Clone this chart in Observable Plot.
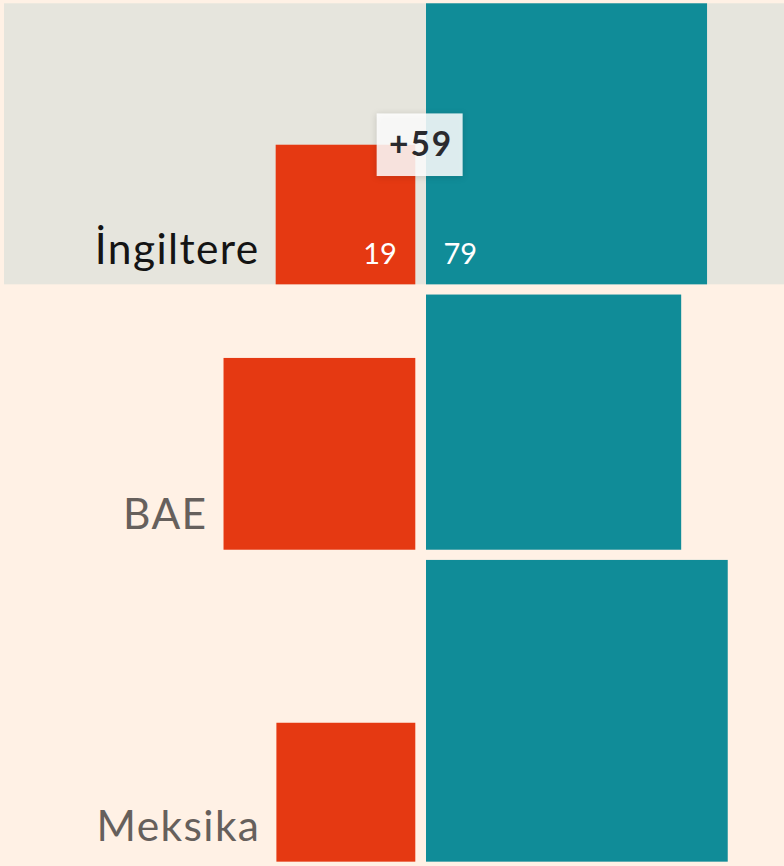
<!DOCTYPE html>
<html><head><meta charset="utf-8">
<script src="https://cdn.jsdelivr.net/npm/d3@7"></script>
<script src="https://cdn.jsdelivr.net/npm/@observablehq/plot@0.6"></script>
<style>
html,body{margin:0;padding:0;background:#fff1e5;}
#chart svg{display:block}
</style></head><body><div id="chart"></div>
<script>
// Data
const countries = ["İngiltere", "BAE", "Meksika"];
const leftValues = [19.4, 36.6, 19.2];   // red squares (area ∝ value)
const rightValues = [78.6, 64.8, 90.6];  // teal squares (area ∝ value)
const highlighted = "İngiltere";

// Layout parameters
const W = 784, H = 866;
const K = 31.7;          // px per sqrt-unit (same on both axes)
const CENTER = 420.65;   // px position of the split
const HALF_GAP = 5.35;
const ROW_GAP = 10.2 / K;
const TOP = 3.3 / K;

let cursor = TOP;
const rows = countries.map((name, i) => {
  const sL = Math.sqrt(leftValues[i]), sR = Math.sqrt(rightValues[i]);
  const top = cursor, bottom = top + Math.max(sL, sR);
  cursor = bottom + ROW_GAP;
  return {name, left: leftValues[i], right: rightValues[i], sL, sR, top, bottom, hl: name === highlighted};
});
const hlRows = rows.filter(d => d.hl);
const otherRows = rows.filter(d => !d.hl);
const xDomain = [-CENTER / K, (W - CENTER) / K];
const yDomain = [0, H / K];

const labelOpts = {x: d => -d.sL, y: "bottom", text: "name", textAnchor: "end", lineAnchor: "bottom",
  dx: -HALF_GAP - 16.5, dy: -21, fontSize: 42.5};

const chart = Plot.plot({
  width: W, height: H,
  margin: 0,
  x: {domain: xDomain, range: [0, W], axis: null},
  y: {domain: yDomain, range: [0, H], axis: null},
  style: {fontFamily: "Lato, sans-serif", background: "transparent", overflow: "visible"},
  marks: [
    Plot.rect(hlRows, {x1: () => xDomain[0] + 4 / K, x2: () => xDomain[1], y1: "top", y2: "bottom", fill: "#e6e5dd"}),
    Plot.rect(rows, {x1: d => -d.sL, x2: () => 0, y1: d => d.bottom - d.sL, y2: "bottom", fill: "#e53912", dx: -HALF_GAP}),
    Plot.rect(rows, {x1: () => 0, x2: d => d.sR, y1: d => d.bottom - d.sR, y2: "bottom", fill: "#108c98", dx: HALF_GAP}),
    Plot.text(hlRows, {...labelOpts, fill: "#141414"}),
    Plot.text(otherRows, {...labelOpts, fill: "#66605c"}),
    Plot.text(hlRows, {x: () => 0, y: "bottom", text: d => d3.format(".0f")(d.left), textAnchor: "end",
      lineAnchor: "bottom", dx: -HALF_GAP - 19, dy: -21, fontSize: 29, fill: "white"}),
    Plot.text(hlRows, {x: () => 0, y: "bottom", text: d => d3.format(".0f")(d.right), textAnchor: "start",
      lineAnchor: "bottom", dx: HALF_GAP + 17, dy: -21, fontSize: 29, fill: "white"}),
    Plot.rect(hlRows, {x1: () => 0, x2: () => 0,
      y1: d => d.bottom - Math.min(d.sL, d.sR), y2: d => d.bottom - Math.min(d.sL, d.sR),
      insetLeft: -43, insetRight: -43, insetTop: -31.3, insetBottom: -31.3, dx: -1,
      fill: "white", fillOpacity: 0.86, stroke: "none"}),
    Plot.text(hlRows, {x: () => 0, y: d => d.bottom - Math.min(d.sL, d.sR),
      text: d => "+" + Math.round(d.right - d.left), lineAnchor: "middle", dx: 0,
      fontSize: 33.5, fontWeight: "bold", fill: "#2a2a2e"})
  ]
});
// fine typographic touches
const svg = d3.select(chart);
svg.selectAll("text").filter(function() { return countries.includes(this.textContent); })
  .style("letter-spacing", "1.4px");
svg.selectAll("text").filter(function() { return this.textContent.startsWith("+"); })
  .style("letter-spacing", "2px");
svg.selectAll("rect").filter(function() { return this.getAttribute("fill-opacity") === "0.86" || this.parentNode.getAttribute("fill-opacity") === "0.86"; })
  .style("filter", "drop-shadow(0 1px 3px rgba(0,0,0,0.18))");
document.getElementById("chart").append(chart);
</script></body></html>
